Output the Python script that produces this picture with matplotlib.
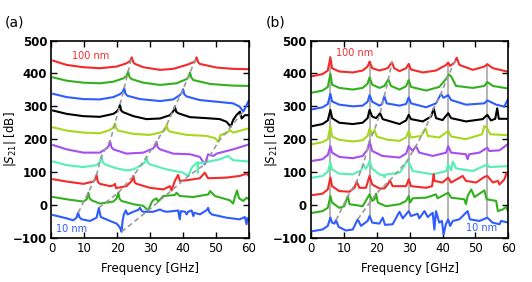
import matplotlib
matplotlib.use("Agg")
import matplotlib.pyplot as plt

# ---------------- data: panel (a) ----------------
a100_f = [0.5, 4.6, 9.7, 14.7, 19.8, 22.8, 23.9, 24.4, 24.9, 25.4, 27.9, 33, 37, 41.1, 43.6, 44.1, 44.6, 45.1, 50.2, 55.2, 60]
a100_db = [439, 426, 419, 416, 421, 431, 438, 449, 434, 429, 419, 411, 414, 426, 436, 449, 434, 429, 418, 414, 413]
a90_f = [0.5, 4.6, 9.7, 14.7, 18.8, 21.8, 22.8, 23.3, 23.7, 24.3, 27.9, 33, 38, 41.1, 41.7, 42.1, 42.5, 43.1, 48.2, 55.2, 60]
a90_db = [388, 378, 372, 370, 375, 385, 392, 406, 390, 383, 372, 365, 370, 383, 390, 403, 388, 380, 368, 363, 362]
a80_f = [0.5, 4.6, 9.7, 14.7, 18.8, 20.8, 21.6, 22.1, 22.5, 23.1, 26.9, 33, 37, 39, 39.6, 40, 40.4, 41.1, 45.1, 50.2, 55.2, 57.2, 58.3, 59.1, 60]
a80_db = [338, 328, 322, 321, 328, 337, 343, 355, 338, 332, 322, 316, 321, 334, 341, 352, 336, 330, 319, 314, 309, 299, 284, 299, 318]
a70_f = [0.5, 4.6, 9.7, 14.7, 18.8, 19.8, 20.4, 20.8, 21.2, 21.8, 24.9, 28.9, 33, 36, 37.1, 37.5, 37.9, 38.5, 42.1, 47.1, 51.2, 53.2, 54.5, 55.2, 56.2, 57.3, 57.8, 58.8, 60]
a70_db = [287, 277, 270, 268, 277, 284, 291, 304, 287, 282, 270, 261, 263, 273, 286, 299, 284, 279, 267, 264, 261, 253, 238, 258, 273, 284, 263, 273, 273]
a60_f = [0.5, 4.6, 9.7, 14.7, 17.8, 18.8, 19.3, 19.7, 20.3, 24.9, 29.9, 34, 34.6, 35, 35.4, 36, 41.1, 47.1, 49.7, 50.7, 51.4, 53.2, 54.2, 55.2, 60]
a60_db = [236, 226, 220, 218, 228, 236, 248, 232, 226, 216, 213, 223, 230, 243, 228, 223, 213, 210, 203, 192, 213, 218, 228, 220, 233]
a50_f = [0.5, 4.6, 9.7, 14.7, 16.8, 17.4, 17.8, 18.2, 18.8, 22.8, 27.9, 30.9, 31.5, 31.9, 32.3, 33, 37, 42.1, 45.1, 46.6, 47.6, 49.2, 50.2, 55.2, 60]
a50_db = [182, 169, 159, 159, 172, 180, 194, 176, 169, 156, 159, 172, 179, 192, 175, 169, 156, 154, 146, 123, 154, 149, 156, 169, 184]
a40_f = [0.5, 4.6, 9.7, 13.7, 14.7, 15.2, 15.6, 16.3, 19.8, 22.8, 24.9, 27.4, 28.4, 28.9, 29.3, 30, 35, 40, 41.6, 42.6, 43.6, 44.4, 44.5, 44.6, 46.1, 51.2, 53.7, 55.2, 60]
a40_db = [132, 121, 115, 121, 130, 149, 130, 123, 111, 105, 108, 121, 130, 146, 128, 123, 108, 98, 88, 113, 123, 130, 98, 128, 128, 139, 149, 136, 132]
a30_f = [0.5, 4.6, 9.7, 12.7, 13.3, 13.7, 14.1, 14.7, 17.8, 19.0, 19.3, 19.6, 22.8, 24.4, 24.9, 25.3, 25.9, 29.9, 34, 36, 36.5, 37.5, 38.5, 39, 41.1, 45.1, 46.6, 47.6, 53.2, 57.2, 59.3, 60]
a30_db = [78, 71, 64, 71, 78, 91, 70, 64, 57, 60, 64, 51, 57, 73, 88, 68, 64, 52, 47, 57, 44, 73, 91, 73, 75, 81, 98, 81, 83, 88, 95, 88]
a20_f = [0.5, 4.6, 9.7, 10.7, 11.2, 11.6, 12.2, 14.7, 18.8, 19.8, 20.3, 20.7, 21.3, 24.9, 27.9, 29.4, 30.4, 30.9, 31.9, 32.4, 34, 37.5, 38, 39, 43.1, 47.7, 48.2, 49.7, 54.2, 55.2, 55.7, 56.4, 57, 58.3, 59.3, 60]
a20_db = [24, 17, 10, 17, 37, 20, 14, 4, 10, 20, 37, 18, 12, 2, -3, -17, 7, 14, 20, 10, 27, 30, 37, 27, 24, 32, 42, 27, 14, 4, 22, 44, 20, 12, 22, 17]
a10_f = [0.5, 4.6, 6.6, 7.6, 8.1, 8.5, 9.2, 11.7, 13.7, 14.4, 14.8, 15.0, 17.8, 19.8, 20.8, 21.3, 21.6, 22.0, 22.6, 23.1, 24.9, 26.4, 26.9, 27.4, 27.9, 30.9, 33, 34, 35, 37, 38.5, 39, 39.3, 40.6, 41.1, 41.5, 42.6, 43.1, 43.4, 45.1, 47.2, 47.6, 48.0, 48.7, 53.2, 57.2, 58.8, 59.3, 59.6, 60]
a10_db = [-31, -41, -47, -39, -24, -38, -44, -49, -39, -9, -30, -37, -49, -57, -69, -82, -49, -29, -17, -29, -21, -15, -9, -18, -21, -21, -14, -19, -21, -19, -17, -44, -19, -21, -29, -21, -17, -34, -24, -29, -16, -9, -22, -29, -39, -44, -37, -59, -40, -47]

# mode traces (peak positions) for panel (a)
a_mode1_f = [8.1, 11.2, 13.7, 15.2, 17.8, 19.3, 20.8, 22.1, 23.3, 24.4]
a_mode1_db = [-24, 37, 91, 149, 194, 248, 304, 355, 406, 449]
a_mode2_f = [14.4, 20.3, 24.9, 28.9, 31.9, 35.0, 37.5, 40.0, 42.1, 44.1]
a_mode2_db = [-9, 37, 88, 146, 192, 243, 299, 352, 403, 449]
a_mode3_f = [21.3, 29.4, 36.5, 41.6, 46.6, 50.7, 54.5, 58.3]
a_mode3_db = [-82, -17, 44, 88, 123, 192, 238, 284]

# ---------------- data: panel (b) ----------------
b100_f = [0.5, 3.5, 5.1, 5.9, 6.4, 8.6, 12.7, 15.7, 17.2, 17.8, 18.6, 20.8, 23.3, 24.6, 25.3, 26.9, 28.9, 29.7, 30.4, 34, 38, 41.1, 41.7, 42.3, 43.6, 44.3, 45.1, 49.2, 52.7, 53.6, 55.3, 60]
b100_db = [392, 398, 409, 449, 416, 406, 403, 409, 421, 436, 416, 409, 416, 434, 416, 407, 416, 429, 412, 403, 409, 426, 433, 423, 433, 448, 426, 411, 421, 428, 416, 405]
b90_f = [0.5, 3.5, 5.1, 5.9, 6.4, 8.6, 12.7, 15.7, 17.2, 17.8, 18.6, 20.8, 22.3, 23.5, 24.3, 26.9, 28.9, 29.7, 30.4, 35, 39, 41.1, 41.9, 42.6, 44.1, 49.2, 52.7, 53.6, 55.3, 60]
b90_db = [342, 348, 359, 399, 366, 356, 351, 356, 369, 388, 366, 356, 362, 382, 362, 351, 361, 380, 359, 348, 359, 384, 397, 391, 362, 356, 362, 374, 362, 354]
b80_f = [0.5, 3.5, 5.1, 5.9, 6.4, 8.6, 12.7, 15.7, 17.2, 17.8, 18.6, 20.8, 21.6, 22.3, 23, 26.9, 28.9, 29.7, 30.4, 35, 38, 39.5, 40.3, 41.7, 42.6, 47.1, 52.7, 53.6, 56.3, 58.8, 59.3, 60]
b80_db = [291, 297, 307, 338, 315, 305, 300, 302, 314, 334, 314, 302, 307, 331, 309, 302, 307, 327, 309, 297, 309, 338, 326, 334, 319, 305, 309, 318, 305, 299, 310, 324]
b70_f = [0.5, 3.5, 5.1, 5.9, 6.4, 8.6, 12.7, 15.7, 17.2, 17.8, 18.6, 19.8, 21.0, 21.8, 26.9, 28.9, 29.7, 30.4, 34, 36.5, 37.3, 38, 40, 41.7, 42.6, 47.1, 52.2, 53.6, 54.7, 56, 56.6, 57.1, 60]
b70_db = [240, 246, 257, 289, 264, 250, 246, 250, 264, 289, 269, 264, 279, 261, 246, 257, 274, 261, 254, 269, 294, 264, 258, 279, 264, 254, 261, 274, 257, 262, 294, 262, 262]
b60_f = [0.5, 3.5, 5.1, 5.9, 6.4, 8.6, 12.7, 15.7, 17.2, 17.8, 18.6, 19.3, 20, 23.3, 26.9, 28.9, 29.7, 30.4, 33.5, 34.8, 35.5, 39, 41.7, 42.6, 47.1, 52, 52.7, 53.6, 54.5, 60]
b60_db = [185, 191, 200, 240, 208, 198, 193, 197, 210, 232, 215, 228, 208, 198, 195, 205, 225, 205, 210, 233, 210, 205, 225, 208, 200, 215, 240, 232, 215, 212]
b50_f = [0.5, 3.5, 5.1, 5.9, 6.4, 8.6, 12.7, 15.7, 17.2, 17.8, 18.6, 21.7, 26.9, 28.9, 29.7, 30.9, 31.9, 32.9, 37, 41.1, 41.7, 42.6, 47.1, 47.6, 48.1, 51.2, 53.6, 54.2, 57.3, 60]
b50_db = [134, 139, 152, 179, 159, 146, 142, 149, 169, 194, 164, 149, 144, 156, 179, 164, 179, 159, 149, 159, 179, 159, 154, 139, 154, 159, 174, 164, 166, 186]
b40_f = [0.5, 3.5, 5.1, 5.9, 6.4, 8.6, 12.7, 15.2, 15.9, 16.6, 17.2, 17.8, 18.6, 20.8, 22, 22.3, 22.6, 26.9, 28.4, 29.1, 29.7, 30.9, 37, 41.1, 41.7, 42.6, 43.1, 44.1, 49.2, 53.6, 54.2, 60]
b40_db = [83, 88, 101, 129, 108, 95, 93, 105, 124, 110, 118, 134, 110, 93, 90, 84, 92, 98, 118, 132, 132, 103, 93, 103, 123, 105, 132, 111, 103, 123, 115, 118]
b30_f = [0.5, 3.5, 5.1, 5.9, 6.4, 8.6, 11.7, 13.2, 13.9, 14.7, 16.7, 17.8, 18.6, 20.8, 22.3, 23.3, 24, 24.8, 28.9, 29.7, 30.4, 35, 36.8, 37.3, 37.5, 40, 41.7, 42.6, 46.1, 47.1, 50.2, 52.7, 53.6, 55.3, 56.8, 57.3, 58.8, 59.5, 60]
b30_db = [30, 34, 47, 83, 57, 42, 40, 52, 71, 52, 52, 88, 62, 50, 50, 62, 75, 57, 57, 78, 57, 52, 57, 93, 73, 68, 83, 68, 88, 73, 68, 85, 88, 68, 73, 62, 78, 98, 88]
b20_f = [0.5, 3.5, 5.1, 5.9, 6.4, 8.6, 10.1, 11.2, 11.7, 15.7, 17.8, 18.6, 19.3, 19.8, 20.3, 22.8, 26.9, 28.9, 29.7, 30.1, 30.9, 35, 38, 38.5, 41.7, 42.6, 46.6, 47.1, 47.6, 48.7, 49.7, 52.7, 53.4, 56.3, 56.8, 58.3, 59.3, 60]
b20_db = [-24, -19, -9, 27, 7, -9, -4, 27, 2, -4, 32, 12, 17, 34, 7, -4, 2, 12, 27, 7, 20, 22, 32, 20, 37, 22, 17, 2, 27, 47, 24, 44, 17, 12, -19, -14, -6, -21]
b10_f = [0.5, 3.5, 5.1, 5.9, 6.4, 7.1, 7.6, 8.4, 10.6, 12.7, 14.2, 15.2, 17.2, 17.8, 18.6, 20.8, 21.8, 22.5, 24.8, 26.9, 27.9, 29.7, 30.4, 32.4, 32.9, 34.5, 35.5, 37, 37.5, 38, 39, 39.8, 40.3, 41, 41.7, 42.3, 43.1, 45.1, 47.6, 48.3, 51.2, 53.6, 55.2, 57.3, 57.8, 60]
b10_db = [-80, -75, -64, -39, -54, -57, -47, -67, -78, -75, -44, -64, -49, -34, -54, -57, -39, -61, -59, -21, -41, -19, -34, -27, -41, -19, -37, -24, -75, -19, -54, -49, -90, -59, -44, -64, -49, -44, -19, -44, -49, -39, -54, -59, -49, -54]

# mode traces for panel (b)
b_mode1_f = [7.6, 11.2, 13.9, 15.9, 17.8, 19.3, 21.0, 22.3, 23.5, 24.6]
b_mode1_db = [-47, 27, 71, 124, 194, 228, 279, 331, 382, 434]
b_mode2_f = [14.2, 19.8, 24.0, 29.1, 31.9, 34.8, 37.3, 39.5, 41.9, 44.3]
b_mode2_db = [-44, 34, 75, 132, 179, 233, 294, 338, 397, 448]
# fixed-frequency resonances (vertical gray lines)
b_fixed_f = [5.9, 17.8, 29.7, 41.7, 53.6]
b_fixed_lo = [-39, -34, -19, -44, -39]
b_fixed_hi = [449, 436, 429, 433, 428]

colors = ['#f52a2a', '#33b01e', '#2f5cff', '#000000', '#a6d81c',
          '#a54ff0', '#55f0b4', '#f52a2a', '#33b01e', '#2f5cff']

a_curves = [(a100_f, a100_db), (a90_f, a90_db), (a80_f, a80_db), (a70_f, a70_db), (a60_f, a60_db),
            (a50_f, a50_db), (a40_f, a40_db), (a30_f, a30_db), (a20_f, a20_db), (a10_f, a10_db)]
b_curves = [(b100_f, b100_db), (b90_f, b90_db), (b80_f, b80_db), (b70_f, b70_db), (b60_f, b60_db),
            (b50_f, b50_db), (b40_f, b40_db), (b30_f, b30_db), (b20_f, b20_db), (b10_f, b10_db)]

fig = plt.figure(figsize=(5.32, 2.82), dpi=100)
axa = fig.add_axes([0.0968, 0.157, 0.371, 0.699])
axb = fig.add_axes([0.5846, 0.157, 0.371, 0.699])

dash_kw = dict(color='#9a9a9a', ls='--', lw=1.2, dashes=(3, 2), zorder=3)

for (f, d), c in zip(a_curves, colors):
    axa.plot(f, d, color=c, lw=1.5, zorder=2)
axa.plot(a_mode1_f, a_mode1_db, **dash_kw)
axa.plot(a_mode2_f, a_mode2_db, **dash_kw)
axa.plot(a_mode3_f, a_mode3_db, **dash_kw)

for x, lo, hi in zip(b_fixed_f, b_fixed_lo, b_fixed_hi):
    axb.plot([x, x], [lo, hi], color='#a8a8a8', lw=1.2, zorder=1)
for (f, d), c in zip(b_curves, colors):
    axb.plot(f, d, color=c, lw=1.5, zorder=2)
axb.plot(b_mode1_f, b_mode1_db, **dash_kw)
axb.plot(b_mode2_f, b_mode2_db, **dash_kw)

for ax, lx in ((axa, -0.168), (axb, -0.16)):
    ax.set_xlim(0, 60)
    ax.set_ylim(-100, 500)
    ax.set_xticks(range(0, 61, 10))
    ax.set_yticks(range(-100, 501, 100))
    ax.tick_params(direction='in', top=True, right=True, length=4, width=1, labelsize=8.5, pad=3)
    for lab in ax.get_yticklabels():
        lab.set_fontweight('bold')
    for sp in ax.spines.values():
        sp.set_linewidth(1.2)
    ax.set_xlabel('Frequency [GHz]', fontsize=8.5, labelpad=5)
    ax.set_ylabel(r'$|S_{21}|$ [dB]', fontsize=8.5)
    ax.yaxis.set_label_coords(lx, 0.5)

axa.text(6.2, 453, '100 nm', color='#f52a2a', fontsize=7, va='center')
axa.text(1.4, -74, '10 nm', color='#2f5cff', fontsize=7, va='center')
axb.text(7.6, 463, '100 nm', color='#f52a2a', fontsize=7, va='center')
axb.text(47.0, -71, '10 nm', color='#2f5cff', fontsize=7, va='center')

fig.text(0.008, 0.905, '(a)', fontsize=10, va='baseline')
fig.text(0.500, 0.905, '(b)', fontsize=10, va='baseline')

fig.savefig('out.png', dpi=100)
